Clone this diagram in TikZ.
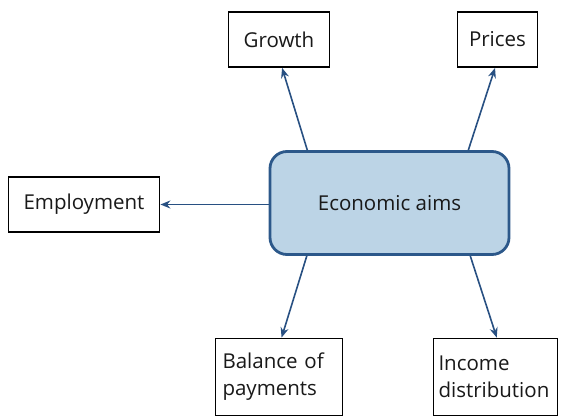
\documentclass[tikz,border=0pt]{standalone}
\usepackage{fontspec}
\setmainfont{Open Sans}
\usetikzlibrary{arrows.meta,calc}
\definecolor{aimfill}{RGB}{188,212,230}
\definecolor{aimline}{RGB}{44,88,138}
\definecolor{arrowblue}{RGB}{40,80,130}
\definecolor{textdark}{RGB}{25,25,25}
\tikzset{
  aimbox/.style={draw=black,line width=1.8pt,fill=white,inner sep=0pt,text=textdark,font=\fontsize{20.5}{24}\selectfont},
  centerbox/.style={draw=aimline,line width=2.8pt,fill=aimfill,rounded corners=17pt,inner sep=0pt,minimum width=239pt,minimum height=103pt,text=textdark,font=\fontsize{20.5}{24}\selectfont},
  link/.style={draw=arrowblue,line width=1.6pt,-{Stealth[length=10pt,width=8pt]}}
}
\begin{document}
\begin{tikzpicture}[x=1pt,y=-1pt]
\useasboundingbox (0,0) rectangle (561,417);
\node[centerbox] (c) at (389.5,203) {Economic aims};
\node[aimbox,minimum width=151pt,minimum height=55pt] (emp) at (84,204.5) {Employment};
\node[aimbox,minimum width=101pt,minimum height=55pt] (gro) at (279,39.5) {Growth};
\node[aimbox,minimum width=80pt,minimum height=55pt] (pri) at (497.5,39.5) {Prices};
\node[aimbox,minimum width=127pt,minimum height=77pt,align=left,text width=113pt,font=\fontsize{20.5}{27}\selectfont] (bal) at (279,377) {Balance of\\payments};
\node[aimbox,minimum width=124pt,minimum height=77pt,align=left,text width=114pt,font=\fontsize{20.5}{27}\selectfont] (inc) at (495.5,377) {Income\\distribution};
\draw[link] (c.west |- emp.east) -- (emp.east);
\draw[link] ($(c.north west)!0.16!(c.north east)$) -- ($(gro.south west)!0.53!(gro.south east)$);
\draw[link] ($(c.north west)!0.826!(c.north east)$) -- ($(pri.south west)!0.47!(pri.south east)$);
\draw[link] ($(c.south west)!0.158!(c.south east)$) -- ($(bal.north west)!0.52!(bal.north east)$);
\draw[link] ($(c.south west)!0.834!(c.south east)$) -- ($(inc.north west)!0.51!(inc.north east)$);
\end{tikzpicture}
\end{document}
